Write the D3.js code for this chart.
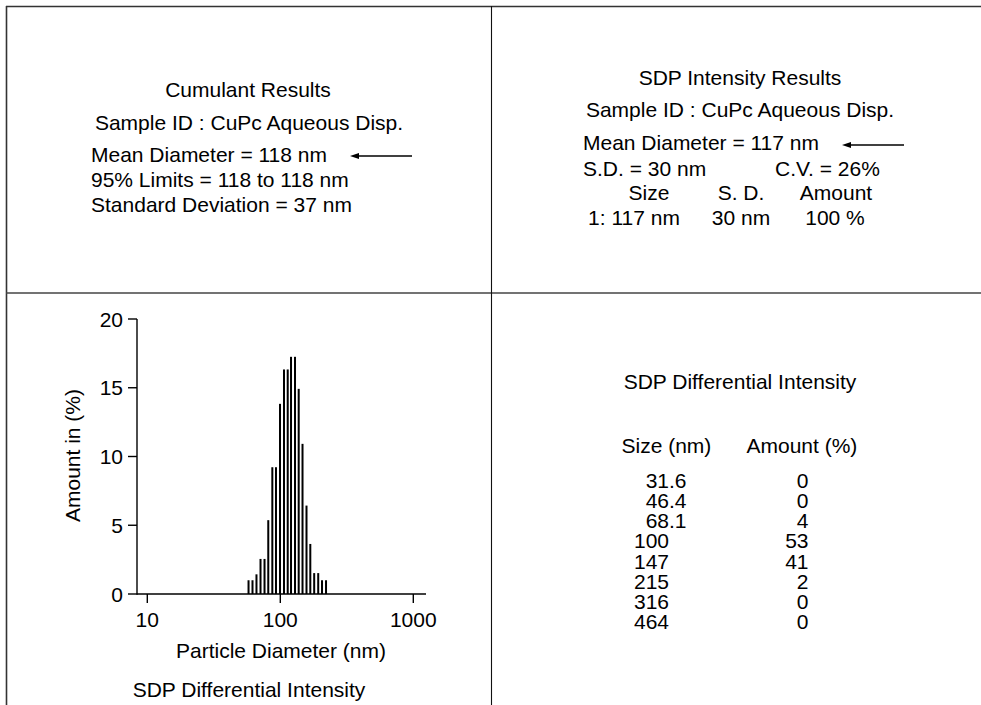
<!DOCTYPE html>
<html>
<head>
<meta charset="utf-8">
<script src="https://cdn.jsdelivr.net/npm/d3@7"></script>
<style>
  html, body { margin: 0; padding: 0; background: #fff; }
  svg { display: block; }
  text { font-family: "Liberation Sans", Arial, Helvetica, sans-serif; font-size: 21px; fill: #000; }
</style>
</head>
<body>
<svg id="chart" width="981" height="705"></svg>
<script>
// ---------- data ----------
const diameters = [57.7, 61.8, 66.2, 71.0, 76.1, 81.2, 87.1, 92.8, 99.5, 106.6, 113.7,
                   120.4, 129.0, 137.5, 146.9, 157.4, 168.1, 179.8, 192.8, 205.9, 220.7];
const amounts   = [1.0, 1.0, 1.43, 2.55, 2.55, 5.37, 9.22, 9.22, 13.83, 16.33, 16.33,
                   17.25, 17.25, 14.92, 10.92, 6.43, 3.64, 1.52, 1.52, 1.0, 1.0];
const xTicks = [10, 100, 1000];
const yTicks = [0, 5, 10, 15, 20];

const cumulantLines = ["Mean Diameter = 118 nm", "95% Limits = 118 to 118 nm", "Standard Deviation = 37 nm"];
const sampleId = "Sample ID : CuPc Aqueous Disp.";

const tableSizes   = ["31.6", "46.4", "68.1", "100", "147", "215", "316", "464"];
const tableAmounts = ["0", "0", "4", "53", "41", "2", "0", "0"];

// ---------- drawing ----------
const svg = d3.select("#chart");

// panel frame
const frame = svg.append("g").attr("fill", "none");
frame.append("line").attr("x1", 6).attr("x2", 981).attr("y1", 6.5).attr("y2", 6.5)
  .attr("stroke", "#333").attr("stroke-width", 1.6);
frame.append("line").attr("x1", 6.5).attr("x2", 6.5).attr("y1", 6).attr("y2", 705)
  .attr("stroke", "#333").attr("stroke-width", 1.6);
frame.append("line").attr("x1", 6).attr("x2", 981).attr("y1", 293).attr("y2", 293)
  .attr("stroke", "#444").attr("stroke-width", 1.4);
frame.append("line").attr("x1", 491.5).attr("x2", 491.5).attr("y1", 6).attr("y2", 705)
  .attr("stroke", "#111").attr("stroke-width", 1.1);

function arrow(x1, x2, y) {
  svg.append("line").attr("x1", x1 + 6).attr("x2", x2).attr("y1", y).attr("y2", y)
    .attr("stroke", "#000").attr("stroke-width", 1.3);
  svg.append("path").attr("d", `M${x1},${y} L${x1 + 9},${y - 3} L${x1 + 9},${y + 3} Z`).attr("fill", "#000");
}

// ---- top-left: Cumulant Results
svg.append("text").attr("x", 248).attr("y", 96.5).attr("text-anchor", "middle").text("Cumulant Results");
svg.append("text").attr("x", 249).attr("y", 129.5).attr("text-anchor", "middle").text(sampleId);
svg.selectAll("text.cum").data(cumulantLines).join("text").attr("class", "cum")
  .attr("x", 91).attr("y", (d, i) => 162 + i * 25.2).text(d => d);
arrow(350, 412, 156);

// ---- top-right: SDP Intensity Results
svg.append("text").attr("x", 740).attr("y", 84.5).attr("text-anchor", "middle").text("SDP Intensity Results");
svg.append("text").attr("x", 740).attr("y", 117).attr("text-anchor", "middle").text(sampleId);
svg.append("text").attr("x", 583).attr("y", 150).text("Mean Diameter = 117 nm");
arrow(842, 904, 145);
svg.append("text").attr("x", 583).attr("y", 175.5).text("S.D. = 30 nm");
svg.append("text").attr("x", 775).attr("y", 175.5).text("C.V. = 26%");
const hdr = [["Size", 649], ["S. D.", 741], ["Amount", 836]];
svg.selectAll("text.hdr").data(hdr).join("text").attr("class", "hdr")
  .attr("x", d => d[1]).attr("y", 199.5).attr("text-anchor", "middle").text(d => d[0]);
const row1 = [["1: 117 nm", 634], ["30 nm", 741], ["100 %", 835]];
svg.selectAll("text.row1").data(row1).join("text").attr("class", "row1")
  .attr("x", d => d[1]).attr("y", 225).attr("text-anchor", "middle").text(d => d[0]);

// ---- bottom-left: histogram
const x = d3.scaleLog().domain([10, 1000]).range([147.3, 413.3]);
const y = d3.scaleLinear().domain([0, 20]).range([594, 319]);
const xMin = 137, xMax = 426;

const g = svg.append("g");
g.append("line").attr("x1", xMin).attr("x2", xMax).attr("y1", y(0)).attr("y2", y(0))
  .attr("stroke", "#000").attr("stroke-width", 1.4);
g.append("line").attr("x1", xMin).attr("x2", xMin).attr("y1", y(0) + 0.7).attr("y2", y(20))
  .attr("stroke", "#000").attr("stroke-width", 1.4);

// y ticks
g.selectAll("line.yt").data(yTicks).join("line").attr("class", "yt")
  .attr("x1", xMin - 9).attr("x2", xMin).attr("y1", d => y(d)).attr("y2", d => y(d))
  .attr("stroke", "#000").attr("stroke-width", 1.4);
g.selectAll("text.yl").data(yTicks).join("text").attr("class", "yl")
  .attr("x", 123).attr("y", d => y(d) + 7.5).attr("text-anchor", "end").text(d => d);

// x ticks
g.selectAll("line.xt").data(xTicks).join("line").attr("class", "xt")
  .attr("x1", d => x(d)).attr("x2", d => x(d)).attr("y1", y(0)).attr("y2", y(0) + 9)
  .attr("stroke", "#000").attr("stroke-width", 1.4);
g.selectAll("text.xl").data(xTicks).join("text").attr("class", "xl")
  .attr("x", d => x(d)).attr("y", 626.5).attr("text-anchor", "middle").text(d => d);

// bars
g.selectAll("rect.bar").data(diameters).join("rect").attr("class", "bar")
  .attr("x", d => x(d) - 1).attr("width", 2)
  .attr("y", (d, i) => y(amounts[i])).attr("height", (d, i) => y(0) - y(amounts[i]))
  .attr("fill", "#000");

// axis titles
g.append("text").attr("transform", "translate(80,455.5) rotate(-90)").attr("text-anchor", "middle")
  .text("Amount in (%)");
g.append("text").attr("x", 281).attr("y", 658).attr("text-anchor", "middle").text("Particle Diameter (nm)");
g.append("text").attr("x", 249).attr("y", 696.5).attr("text-anchor", "middle").text("SDP Differential Intensity");

// ---- bottom-right: table
svg.append("text").attr("x", 740).attr("y", 389).attr("text-anchor", "middle").text("SDP Differential Intensity");
svg.append("text").attr("x", 621.5).attr("y", 452.5).text("Size (nm)");
svg.append("text").attr("x", 746.5).attr("y", 452.5).text("Amount (%)");

const rowY = i => 487.7 + i * 20.2;
tableSizes.forEach((s, i) => {
  const parts = s.split(".");
  svg.append("text").attr("x", 669).attr("y", rowY(i)).attr("text-anchor", "end").text(parts[0]);
  if (parts.length > 1) {
    svg.append("text").attr("x", 669).attr("y", rowY(i)).text("." + parts[1]);
  }
});
svg.selectAll("text.amt").data(tableAmounts).join("text").attr("class", "amt")
  .attr("x", 808.5).attr("y", (d, i) => rowY(i)).attr("text-anchor", "end").text(d => d);
</script>
</body>
</html>
